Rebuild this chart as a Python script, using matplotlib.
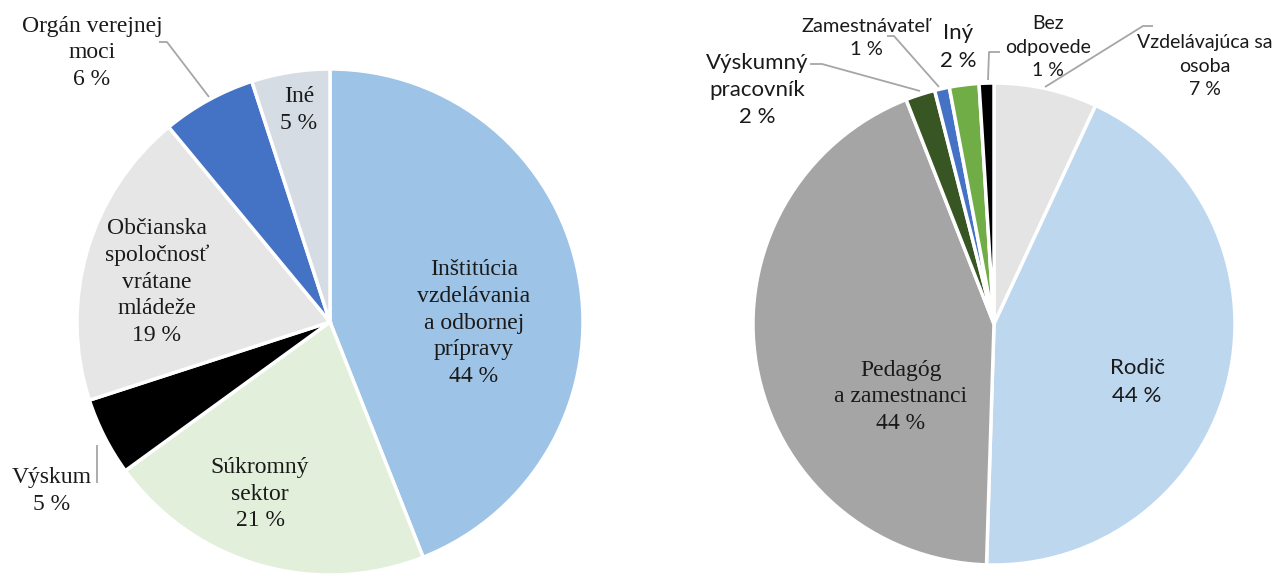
import matplotlib.pyplot as plt

W, H = 1275, 578

# left pie: type of organisation
left_labels = ["Inštitúcia\nvzdelávania\na odbornej\nprípravy", "Súkromný\nsektor", "Výskum",
               "Občianska\nspoločnosť\nvrátane\nmládeže", "Orgán verejnej\nmoci", "Iné"]
left_values = [44, 21, 5, 19, 6, 5]
left_colors = ["#9DC3E6", "#E2EFDA", "#000000", "#E7E6E6", "#4472C4", "#D6DCE4"]

# right pie: role of respondent
right_labels = ["Vzdelávajúca sa\nosoba", "Rodič", "Pedagóg\na zamestnanci", "Výskumný\npracovník",
                "Zamestnávateľ", "Iný", "Bez\nodpovede"]
right_values = [7, 44, 44, 2, 1, 2, 1]
right_colors = ["#E4E4E4", "#BDD7EE", "#A5A5A5", "#375623", "#4472C4", "#70AD47", "#000000"]

SERIF = "Liberation Serif"
SANS = "Lato"

fig = plt.figure(figsize=(W / 100, H / 100), dpi=100)
ax = fig.add_axes([0, 0, 1, 1])


def Y(y):
    # image rows -> axes y
    return H - y


ax.pie(left_values, colors=left_colors, startangle=90, counterclock=False,
       center=(330, Y(322)), radius=253,
       wedgeprops=dict(edgecolor="white", linewidth=2.5))
ax.pie(right_values, colors=right_colors, startangle=90, counterclock=False,
       center=(994, Y(324)), radius=241,
       wedgeprops=dict(edgecolor="white", linewidth=2.5))

ax.set_xlim(0, W)
ax.set_ylim(0, H)
ax.set_aspect("equal")
ax.axis("off")


def label(x, y, name, val, family, size, ls):
    ax.text(x, Y(y), f"{name}\n{val} %", ha="center", va="center",
            multialignment="center", fontsize=size, family=family,
            linespacing=ls, color="#1a1a1a")


def leader(xs, ys):
    ax.plot(xs, [Y(v) for v in ys], color="#A6A6A6", lw=1.3, solid_capstyle="butt")


# left pie labels (serif)
lpos = [(474, 323), (260, 494), (52, 491), (157, 282), (92, 53), (299, 110)]
for (x, y), name, val in zip(lpos, left_labels, left_values):
    label(x, y, name, val, SERIF, 17, 1.35)

leader([159, 167, 209], [42, 42, 97])
leader([97, 97], [445, 483])

# right pie labels (sans, Pedagóg in serif)
rpos = [(1205, 66), (1137, 382), (901, 397), (757, 90), (866, 38), (958, 47), (1048, 47)]
rsize = [14, 16, 17, 16, 14.5, 16, 14]
for (x, y), name, val, s in zip(rpos, right_labels, right_values, rsize):
    if name.startswith("Pedag"):
        label(x, y, name, val, SERIF, s, 1.35)
    else:
        label(x, y, name, val, SANS, s, 1.45)

leader([810, 822, 920], [64, 64, 91])
leader([887, 894, 939], [36, 36, 87])
leader([1000, 989, 988], [52, 52, 80])
leader([1153, 1143, 1045], [26, 26, 87])

fig.savefig("out.png", dpi=100)
